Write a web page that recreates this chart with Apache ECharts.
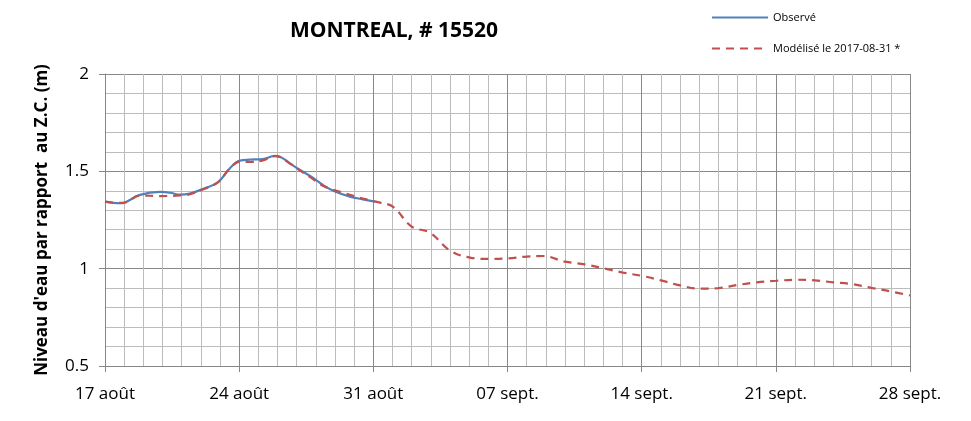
<!DOCTYPE html>
<html><head><meta charset="utf-8">
<script src="https://cdn.jsdelivr.net/npm/echarts@6/dist/echarts.min.js"></script>
<style>html,body{margin:0;padding:0;background:#fff}#c{width:971px;height:421px}</style>
</head><body><div id="c"></div>
<script>
const tickLabels = ['17 août','24 août','31 août','07 sept.','14 sept.','21 sept.','28 sept.'];
const obsDays = [0,0.78,1.04,1.83,2.87,3.4,3.9,4.43,5.2,5.9,6.52,7.04,7.56,8.24,8.87,9.13,9.65,10.17,10.7,11.37,12,12.78,13.46,14.08];
const obsValues = [1.344,1.336,1.34,1.379,1.394,1.39,1.38,1.386,1.413,1.444,1.516,1.555,1.56,1.563,1.579,1.575,1.541,1.507,1.476,1.43,1.396,1.37,1.356,1.344];
const modDays = [0,0.78,1.04,1.83,2.87,3.9,4.43,5.2,5.9,6.52,7.04,7.56,8.24,8.87,9.13,9.65,10.17,10.7,11.5,12.6,13.46,14.35,15.03,16.0,16.95,18.0,19.04,20.08,21.0,22.0,22.85,24.0,25.04,26.0,27.02,28.07,29.0,30.0,31.04,32.0,33.0,34.0,35.05,36.1,37.04,38.0,39.02,40.06,41.05,42.0];
const modValues = [1.344,1.338,1.34,1.376,1.373,1.376,1.383,1.41,1.444,1.516,1.55,1.548,1.556,1.578,1.573,1.54,1.505,1.47,1.42,1.385,1.36,1.339,1.318,1.216,1.185,1.093,1.057,1.05,1.053,1.062,1.065,1.036,1.022,1.002,0.98,0.962,0.94,0.914,0.897,0.9,0.916,0.93,0.938,0.943,0.94,0.93,0.92,0.9,0.882,0.862];
const obsName = 'Observé';
const modName = 'Modélisé le 2017-08-31 *';
const FONT = "'Open Sans', 'Noto Sans', sans-serif";
const chart = echarts.init(document.getElementById('c'));
chart.setOption({
  animation:false,
  backgroundColor:'#fff',
  title:{text:'MONTREAL, # 15520', left:389, top:16, textAlign:'center',
    textStyle:{fontFamily:FONT, fontSize:21, fontWeight:'bold', color:'#000'}},
  legend:{orient:'vertical', left:706, top:7, itemWidth:56, itemHeight:10, itemGap:20,
    itemStyle:{opacity:0},
    textStyle:{fontFamily:FONT, fontSize:11, color:'#000'},
    data:[obsName, modName]},
  grid:{left:105, right:61, top:74, bottom:55},
  xAxis:{type:'value', min:0, max:42, interval:7,
    axisLine:{show:true, lineStyle:{color:'#868686', width:1}},
    axisTick:{show:true, length:6, lineStyle:{color:'#868686'}},
    axisLabel:{fontFamily:FONT, fontSize:17, color:'#000', margin:20,
      formatter:v=>tickLabels[Math.round(v/7)]},
    splitLine:{show:true, lineStyle:{color:'#888', width:1}},
    minorTick:{show:false, splitNumber:7},
    minorSplitLine:{show:true, lineStyle:{color:'#bcbcbc', width:1}}},
  yAxis:{type:'value', min:0.5, max:2, interval:0.5,
    name:"Niveau d'eau par rapport  au Z.C. (m)", nameLocation:'middle', nameGap:54,
    nameTextStyle:{fontFamily:FONT, fontSize:17, fontWeight:'bold', color:'#000'},
    axisLine:{show:true, lineStyle:{color:'#868686'}},
    axisTick:{show:true, length:6, lineStyle:{color:'#868686'}},
    axisLabel:{fontFamily:FONT, fontSize:17, color:'#000', margin:16},
    splitLine:{show:true, lineStyle:{color:'#888', width:1}},
    minorTick:{show:false, splitNumber:5},
    minorSplitLine:{show:true, lineStyle:{color:'#bcbcbc', width:1}}},
  series:[
    {name:obsName, type:'line', smooth:0.4, symbol:'none', z:3,
      data:obsDays.map((d,i)=>[d,obsValues[i]]),
      lineStyle:{color:'#4F81BD', width:2.2}, itemStyle:{color:'#4F81BD'}},
    {name:modName, type:'line', smooth:0.4, symbol:'none', z:4,
      data:modDays.map((d,i)=>[d,modValues[i]]),
      lineStyle:{color:'#C0504D', width:2.2, type:[8,6]}, itemStyle:{color:'#C0504D'}}
  ]
});
</script></body></html>
